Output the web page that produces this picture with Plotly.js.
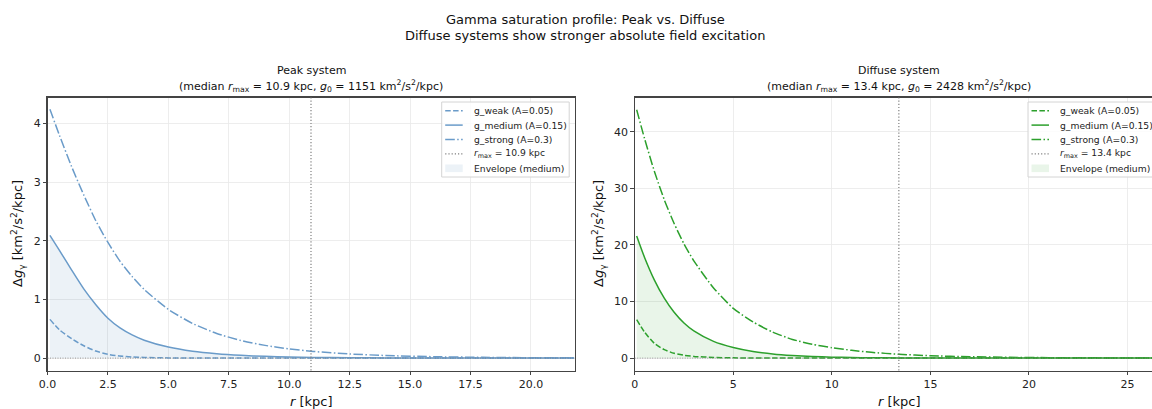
<!DOCTYPE html>
<html><head><meta charset="utf-8">
<script src="https://cdn.plot.ly/plotly-3.0.1.min.js"></script>
<style>html,body{margin:0;padding:0;overflow:hidden;background:#fff}#plot{width:1180px;height:409px}</style>
</head><body><div id="plot"></div>
<script>
// ---- data ----
const seriesNames = ['g_weak (A=0.05)', 'g_medium (A=0.15)', 'g_strong (A=0.3)'];
const envelopeName = 'Envelope (medium)';
const rmaxPeak = 10.9, g0Peak = 1151;
const rmaxDiff = 13.4, g0Diff = 2428;

const rPeak = [0.1,0.5,1,1.5,2,2.5,3,3.5,4,5,6,7,8,9,10,11,12.5,14,16,18,20,21.8];
const weakPeak = [0.66,0.48,0.33,0.21,0.12,0.065,0.035,0.02,0.012,0.004,0.001,0,0,0,0,0,0,0,0,0,0,0];
const mediumPeak = [2.09,1.83,1.50,1.18,0.91,0.68,0.515,0.395,0.305,0.188,0.117,0.074,0.047,0.03,0.019,0.012,0.006,0.003,0.001,0,0,0];
const strongPeak = [4.24,3.79,3.26,2.78,2.34,1.97,1.65,1.39,1.17,0.83,0.59,0.42,0.30,0.217,0.157,0.114,0.071,0.044,0.024,0.013,0.007,0.004];

const rDiff = [0.1,0.5,1,1.5,2,2.5,3,4,5,6,7,8,9,10,11,12,13.4,15,17,19,21,23,25,26.8];
const weakDiff = [6.8,4.6,2.6,1.5,0.85,0.5,0.3,0.12,0.05,0.02,0.01,0,0,0,0,0,0,0,0,0,0,0,0,0];
const mediumDiff = [21.6,17.8,13.8,10.6,8.1,6.2,4.8,2.95,1.88,1.18,0.74,0.46,0.28,0.17,0.10,0.06,0.03,0.014,0.005,0.002,0.001,0,0,0];
const strongDiff = [43.9,38.8,33.0,28.0,23.8,20.2,17.2,12.4,8.8,6.4,4.6,3.3,2.45,1.85,1.38,1.02,0.68,0.42,0.24,0.14,0.08,0.05,0.03,0.02];

// ---- styling ----
const FONT = 'DejaVu Sans, Liberation Sans, sans-serif';
const W = 1180, H = 409;
const blue = '#6a9bc9', green = '#2ca02c';
const dashes = ['5.5px,2.4px', 'solid', '9.6px,2.4px,1.5px,2.4px'];
const px = v => v / W, py = v => 1 - v / H;

function panel(r, ys, color, fill, xa, ya) {
  const out = [];
  out.push({x: r, y: ys[1], xaxis: xa, yaxis: ya, type: 'scatter', mode: 'lines',
    fill: 'tozeroy', fillcolor: fill, line: {width: 0, color: fill, shape: 'spline', smoothing: 0.6},
    name: envelopeName, showlegend: false, hoverinfo: 'skip'});
  ys.forEach((y, i) => out.push({x: r, y: y, xaxis: xa, yaxis: ya, type: 'scatter', mode: 'lines',
    line: {color: color, width: 1.5, dash: dashes[i], shape: 'spline', smoothing: 0.6},
    name: seriesNames[i], showlegend: false}));
  return out;
}

const fillBlue = 'rgba(70,130,180,0.1)', fillGreen = 'rgba(44,160,44,0.1)';
const data = [
  ...panel(rPeak, [weakPeak, mediumPeak, strongPeak], blue, fillBlue, 'x', 'y'),
  ...panel(rDiff, [weakDiff, mediumDiff, strongDiff], green, fillGreen, 'x2', 'y2'),
];

const axBase = {showline: true, mirror: true, linecolor: '#444', linewidth: 1.1,
  ticks: 'outside', ticklen: 3.5, tickwidth: 1, tickcolor: '#444',
  showgrid: true, gridcolor: '#e8e8e8', gridwidth: 0.8, zeroline: false,
  tickfont: {family: FONT, size: 11, color: '#222'}, automargin: false};

const shapes = [];
[['x', 'y', rmaxPeak, 'x domain'], ['x2', 'y2', rmaxDiff, 'x2 domain']].forEach(([xa, ya, rm, xd]) => {
  shapes.push({type: 'line', xref: xa, yref: ya + ' domain', x0: rm, x1: rm, y0: 0, y1: 1,
    line: {color: 'gray', width: 1.2, dash: '1.2px,2px'}});
  shapes.push({type: 'line', xref: xd, yref: ya, x0: 0, x1: 1, y0: 0, y1: 0,
    line: {color: 'gray', width: 0.8, dash: '1px,1.5px'}});
});

const ann = (text, x, y, size, extra) => Object.assign({text: text, x: px(x), y: py(y), xref: 'paper', yref: 'paper',
  showarrow: false, font: {family: FONT, size: size, color: '#111'}, xanchor: 'center', yanchor: 'middle'}, extra || {});

const ylab = 'Δ<i>g</i><sub>γ</sub> [km<sup>2</sup>/s<sup>2</sup>/kpc]';
const annotations = [
  ann('Gamma saturation profile: Peak vs. Diffuse', 585, 19, 13),
  ann('Diffuse systems show stronger absolute field excitation', 585, 35, 13),
  ann('Peak system', 311, 71, 11),
  ann('(median <i>r</i><sub>max</sub> = ' + rmaxPeak + ' kpc, <i>g</i><sub>0</sub> = ' + g0Peak + ' km<sup>2</sup>/s<sup>2</sup>/kpc)', 311, 86, 11),
  ann('Diffuse system', 899, 71, 11),
  ann('(median <i>r</i><sub>max</sub> = ' + rmaxDiff + ' kpc, <i>g</i><sub>0</sub> = ' + g0Diff + ' km<sup>2</sup>/s<sup>2</sup>/kpc)', 899, 86, 11),
  ann('<i>r</i> [kpc]', 311, 401, 13),
  ann('<i>r</i> [kpc]', 899, 401, 13),
  ann(ylab, 18, 234, 13, {textangle: -90}),
  ann(ylab, 599, 234, 13, {textangle: -90}),
];

// ---- compact matplotlib-style legends ----
function legendBox(left, color, fill, rm) {
  const top = 102, step = 14.4, first = 110.7;
  shapes.push({type: 'rect', xref: 'paper', yref: 'paper', x0: px(left), x1: px(left + 127.5),
    y0: py(top), y1: py(top + 75), fillcolor: 'rgba(255,255,255,0.8)', line: {color: '#d4d4d4', width: 1}});
  const labels = seriesNames.concat(['<i>r</i><sub>max</sub> = ' + rm + ' kpc', envelopeName]);
  labels.forEach((lab, i) => {
    const yc = first + i * step;
    if (i < 3) {
      shapes.push({type: 'line', xref: 'paper', yref: 'paper', x0: px(left + 3.5), x1: px(left + 21),
        y0: py(yc), y1: py(yc), line: {color: color, width: 1.5, dash: dashes[i]}});
    } else if (i === 3) {
      shapes.push({type: 'line', xref: 'paper', yref: 'paper', x0: px(left + 3.5), x1: px(left + 21),
        y0: py(yc), y1: py(yc), line: {color: 'gray', width: 1.2, dash: '1.2px,2px'}});
    } else {
      shapes.push({type: 'rect', xref: 'paper', yref: 'paper', x0: px(left + 3.5), x1: px(left + 21),
        y0: py(yc - 3.8), y1: py(yc + 3.8), fillcolor: fill, line: {width: 0}});
    }
    annotations.push(ann(lab, left + 30, yc, 9.2, {xanchor: 'left', font: {family: FONT, size: 9.2, color: '#222'}}));
  });
}
legendBox(441.7, blue, fillBlue, rmaxPeak);
legendBox(1028, green, fillGreen, rmaxDiff);

const layout = {
  width: W, height: H, margin: {l: 0, r: 0, t: 0, b: 0},
  paper_bgcolor: '#fff', plot_bgcolor: '#fff', showlegend: false,
  xaxis: Object.assign({}, axBase, {domain: [px(47.5), px(574.5)], range: [0, 21.8], dtick: 2.5, tick0: 0, tickformat: '.1f', anchor: 'y'}),
  yaxis: Object.assign({}, axBase, {domain: [py(370.5), py(97.5)], range: [-0.211, 4.44], dtick: 1, anchor: 'x'}),
  xaxis2: Object.assign({}, axBase, {domain: [px(634.7), px(1163)], range: [0, 26.8], dtick: 5, tick0: 0, anchor: 'y2'}),
  yaxis2: Object.assign({}, axBase, {domain: [py(370.5), py(97.5)], range: [-2.19, 46.07], dtick: 10, anchor: 'x2'}),
  shapes: shapes, annotations: annotations,
};

Plotly.newPlot('plot', data, layout, {displayModeBar: false, staticPlot: true});
</script></body></html>
